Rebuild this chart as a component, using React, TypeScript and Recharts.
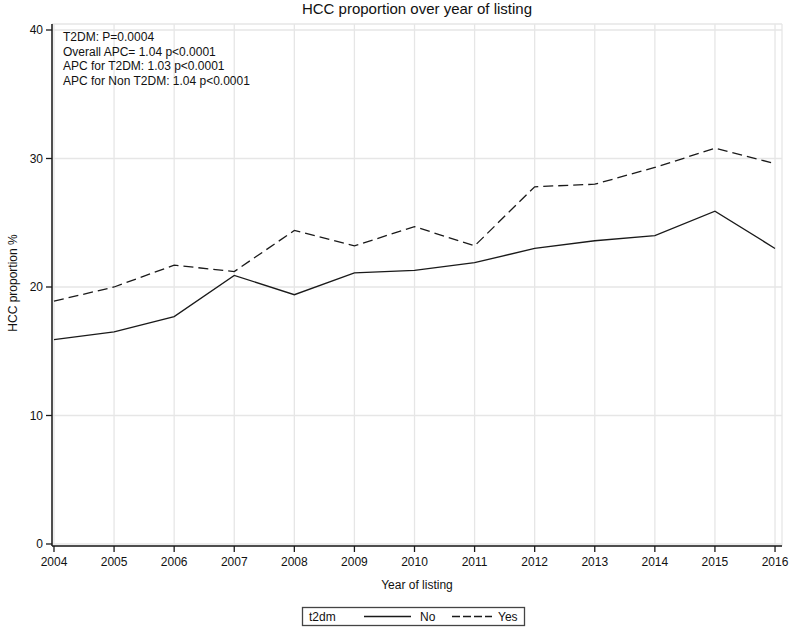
import React from 'react';
import { LineChart, Line, XAxis, YAxis, CartesianGrid } from 'recharts';

const years = [2004, 2005, 2006, 2007, 2008, 2009, 2010, 2011, 2012, 2013, 2014, 2015, 2016];
const noT2dm = [15.9, 16.5, 17.7, 20.9, 19.4, 21.1, 21.3, 21.9, 23.0, 23.6, 24.0, 25.9, 23.0];
const yesT2dm = [18.9, 20.0, 21.7, 21.2, 24.4, 23.2, 24.7, 23.2, 27.8, 28.0, 29.3, 30.8, 29.6];
const yTicks = [0, 10, 20, 30, 40];
const title = 'HCC proportion over year of listing';
const xLabel = 'Year of listing';
const yLabel = 'HCC proportion %';
const annotations = [
  'T2DM: P=0.0004',
  'Overall APC= 1.04 p<0.0001',
  'APC for T2DM: 1.03 p<0.0001',
  'APC for Non T2DM: 1.04 p<0.0001',
];
const legendTitle = 't2dm';
const seriesNames = ['No', 'Yes'];

const data = years.map((year, i) => ({ year, no: noT2dm[i], yes: yesT2dm[i] }));

const FONT = '"Liberation Sans", Arial, sans-serif';
const INK = '#1a1a1a';
const xDomain: [number, number] = [2003.967, 2016.116];
const yDomain: [number, number] = [-0.156, 40.467];

export default function App() {
  return (
    <div style={{ position: 'absolute', left: 0, top: 0, width: 790, height: 627, fontFamily: FONT, background: '#fff' }}>
      <LineChart width={790} height={627} data={data} margin={{ top: 24, right: 8, bottom: 51, left: 12 }}>
        <CartesianGrid stroke="#e6e6e6" strokeWidth={1.3} />
        <XAxis
          dataKey="year"
          type="number"
          domain={xDomain}
          ticks={years}
          allowDataOverflow
          height={30}
          tickSize={6}
          tickMargin={5}
          stroke={INK}
          tick={{ fill: '#111', fontSize: 12, fontFamily: FONT }}
          axisLine={{ stroke: INK, strokeWidth: 1.5 }}
          tickLine={{ stroke: INK, strokeWidth: 1.3 }}
        />
        <XAxis
          xAxisId="top"
          orientation="top"
          dataKey="year"
          type="number"
          domain={xDomain}
          allowDataOverflow
          height={0}
          tick={false}
          tickLine={false}
          axisLine={{ stroke: INK, strokeWidth: 1.5 }}
        />
        <YAxis
          type="number"
          domain={yDomain}
          ticks={yTicks}
          allowDataOverflow
          width={40}
          tickSize={6}
          tickMargin={3}
          tick={{ fill: '#111', fontSize: 12, fontFamily: FONT }}
          axisLine={{ stroke: INK, strokeWidth: 1.5 }}
          tickLine={{ stroke: INK, strokeWidth: 1.3 }}
        />
        <YAxis
          yAxisId="right"
          orientation="right"
          type="number"
          domain={yDomain}
          allowDataOverflow
          width={0}
          tick={false}
          tickLine={false}
          axisLine={{ stroke: INK, strokeWidth: 1.5 }}
        />
        <Line
          dataKey="no"
          name={seriesNames[0]}
          stroke={INK}
          strokeWidth={1.3}
          dot={false}
          isAnimationActive={false}
        />
        <Line
          dataKey="yes"
          name={seriesNames[1]}
          stroke={INK}
          strokeWidth={1.3}
          strokeDasharray="10 5"
          dot={false}
          isAnimationActive={false}
        />
      </LineChart>
      <svg
        width={790}
        height={627}
        style={{ position: 'absolute', left: 0, top: 0, pointerEvents: 'none' }}
        fontFamily={FONT}
      >
        <text x={417} y={14} textAnchor="middle" fontSize={15} fill="#111">{title}</text>
        {annotations.map((t, i) => (
          <text key={i} x={63} y={41 + i * 14.7} fontSize={12} fill="#111">{t}</text>
        ))}
        <text x={417} y={589} textAnchor="middle" fontSize={12} fill="#111">{xLabel}</text>
        <text
          x={17}
          y={283}
          textAnchor="middle"
          fontSize={12}
          fill="#111"
          transform="rotate(-90 17 283)"
        >{yLabel}</text>
        <rect x={302.5} y={607.5} width={222} height={18} fill="none" stroke="#444" strokeWidth={1.3} />
        <text x={309} y={621} fontSize={12} fill="#111">{legendTitle}</text>
        <line x1={364} x2={411} y1={616.5} y2={616.5} stroke={INK} strokeWidth={1.3} />
        <text x={420} y={621} fontSize={12} fill="#111">{seriesNames[0]}</text>
        <line x1={452} x2={492} y1={616.5} y2={616.5} stroke={INK} strokeWidth={1.3} strokeDasharray="8 3" />
        <text x={498} y={621} fontSize={12} fill="#111">{seriesNames[1]}</text>
      </svg>
    </div>
  );
}
